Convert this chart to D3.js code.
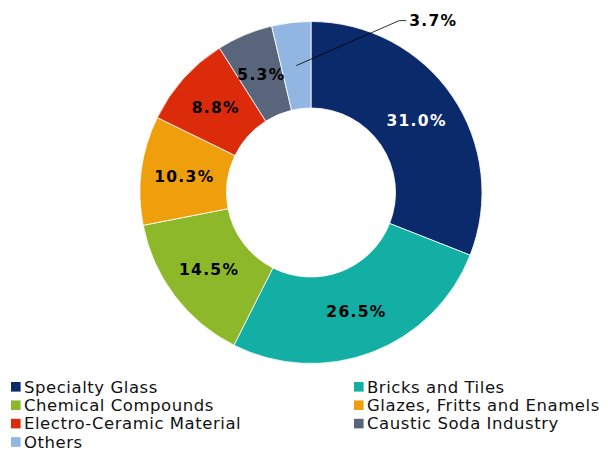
<!DOCTYPE html>
<html><head><meta charset="utf-8">
<script src="https://cdn.jsdelivr.net/npm/d3@7"></script>
<style>body{margin:0;background:#fff}svg{display:block}</style>
</head><body>
<svg id="c" width="608" height="452"></svg>
<script>
const categories = ["Specialty Glass","Bricks and Tiles","Chemical Compounds","Glazes, Fritts and Enamels","Electro-Ceramic Material","Caustic Soda Industry","Others"];
const values = [31.0, 26.5, 14.5, 10.3, 8.8, 5.3, 3.7];
const colors = ["#0b2a6b","#13aea4","#8cb82a","#f09f0c","#dc2b0b","#59657a","#92b6e2"];
const labelColors = ["#fff","#000","#000","#000","#000","#000","#000"];

const svg = d3.select("#c");
const cx = 311, cy = 192.5, rOut = 171, rIn = 84.5;
const g = svg.append("g").attr("transform", `translate(${cx},${cy})`);
const pie = d3.pie().sort(null).value(d => d)(values);
const arc = d3.arc().innerRadius(rIn).outerRadius(rOut);
g.selectAll("path").data(pie).join("path")
  .attr("d", arc).attr("fill", (d,i) => colors[i])
  .attr("stroke", "#fff").attr("stroke-width", 0.8);

const fmt = v => v.toFixed(1) + "%";
const font = "Verdana, 'DejaVu Sans', sans-serif";
pie.forEach((d,i) => {
  const [x,y] = arc.centroid(d);
  if (i === values.length - 1) {
    const p2 = [x + 103, y - 45];
    g.append("polyline")
      .attr("points", [[x,y],[p2[0],p2[1]],[p2[0]+7,p2[1]]].map(p=>p.join(",")).join(" "))
      .attr("fill","none").attr("stroke","#000").attr("stroke-width",0.8);
    g.append("text").attr("x", p2[0]+10).attr("y", p2[1])
      .attr("dy","0.36em").attr("font-family",font).attr("font-weight","bold")
      .attr("font-size","15.5px").attr("letter-spacing","1.3px").attr("fill","#000").text(fmt(values[i]));
  } else {
    g.append("text").attr("x", x).attr("y", y).attr("text-anchor","middle")
      .attr("dy","0.36em").attr("font-family",font).attr("font-weight","bold")
      .attr("font-size","15.5px").attr("letter-spacing","1.3px").attr("fill", labelColors[i]).text(fmt(values[i]));
  }
});

// legend
const leg = svg.append("g");
const colX = [11, 354], rowY0 = 386.8, rowH = 18.4;
categories.forEach((c,i) => {
  const col = i % 2, row = Math.floor(i/2);
  const x = colX[col], y = rowY0 + row*rowH;
  leg.append("rect").attr("x", x).attr("y", y-4.8).attr("width", 9.6).attr("height", 9.6).attr("fill", colors[i]);
  leg.append("text").attr("x", x+13).attr("y", y).attr("dy","0.35em")
    .attr("font-family",font).attr("font-size","16.5px").attr("letter-spacing","0.55px").attr("fill","#111").text(c);
});
</script>
</body></html>
